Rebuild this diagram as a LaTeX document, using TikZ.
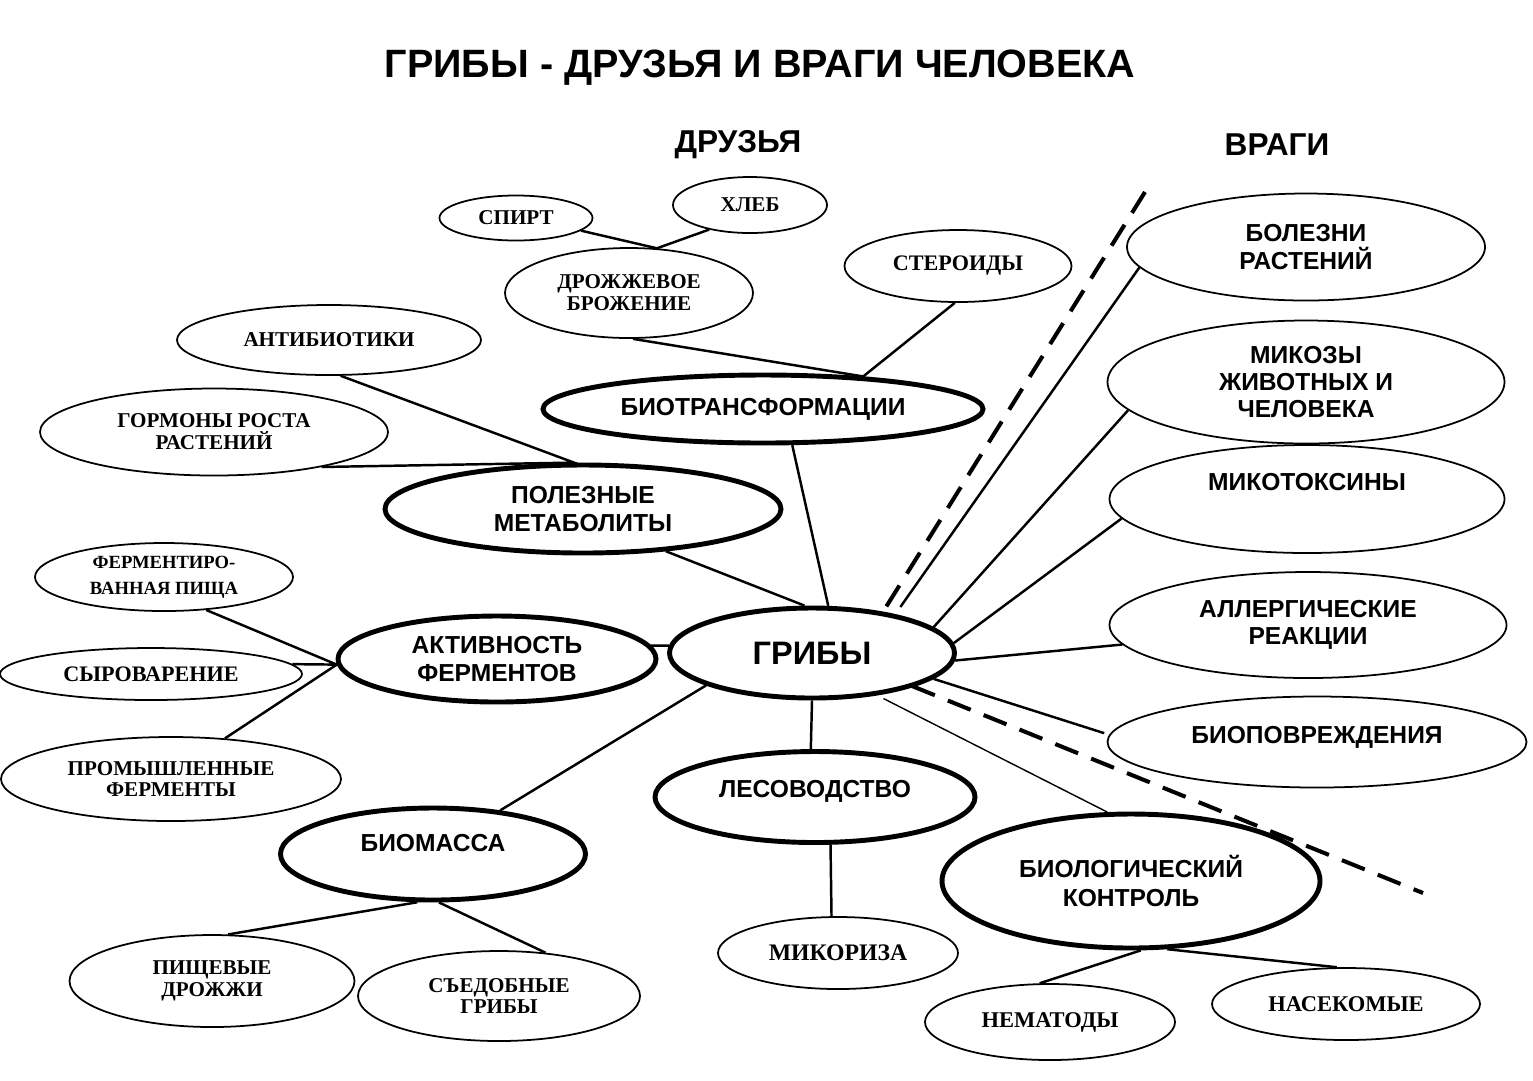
\documentclass[tikz,border=0pt]{standalone}
\usepackage{fontspec}
\setmainfont{Liberation Serif}
\setsansfont{Liberation Sans}
\usetikzlibrary{shapes.geometric}
\newcommand{\raisetext}[2]{\raisebox{#1}[0pt][0pt]{#2}}
\begin{document}
\begin{tikzpicture}[x=0.02cm, y=-0.02cm,
  ell/.style={draw, ellipse, inner sep=0pt, align=center},
  sz/.style 2 args={minimum width=#1*0.02cm, minimum height=#2*0.02cm},
  big/.style={ell, line width=2.8pt, font=\sffamily\bfseries\fontsize{14}{16}\selectfont},
  side/.style={ell, line width=1pt, font=\sffamily\bfseries\fontsize{14}{15.6}\selectfont},
  leaf/.style={ell, line width=1pt, font=\bfseries\fontsize{12}{12.5}\selectfont},
  head/.style={font=\sffamily\bfseries\fontsize{18}{20}\selectfont},
  link/.style={line width=1.4pt},
  fine/.style={line width=0.8pt},
  border/.style={line width=2.3pt, dash pattern=on 14pt off 8pt}]
\useasboundingbox (0,0) rectangle (1533,1080);

% headings
\node[head, font=\sffamily\bfseries\fontsize{22.5}{24}\selectfont] (title) at (760,68) {ГРИБЫ - ДРУЗЬЯ И ВРАГИ ЧЕЛОВЕКА};
\node[head] (friends) at (738,145) {ДРУЗЬЯ};
\node[head] (foes) at (1277,145) {ВРАГИ};

% friends
\node[leaf, sz={153}{45}] (spirt) at (516,218) {СПИРТ};
\node[leaf, sz={154}{56}] (bread) at (750,205) {ХЛЕБ};
\node[leaf, sz={248}{90}] (yeast) at (629,293) {ДРОЖЖЕВОЕ\\БРОЖЕНИЕ};
\node[leaf, sz={227}{72}, font=\bfseries\fontsize{12.6}{13}\selectfont] (steroids) at (958,266) {СТЕРОИДЫ};
\node[leaf, sz={304}{70}] (antibio) at (329,340) {АНТИБИОТИКИ};
\node[leaf, sz={348}{87}] (hormones) at (214,432) {ГОРМОНЫ РОСТА\\РАСТЕНИЙ};
\node[big, sz={440}{68}] (biotrans) at (763,409) {БИОТРАНСФОРМАЦИИ};
\node[big, sz={396}{88}] (metab) at (583,509) {ПОЛЕЗНЫЕ\\МЕТАБОЛИТЫ};
\node[leaf, sz={258}{68}, font=\bfseries\fontsize{10.6}{12}\selectfont] (fermfood) at (164,577) {ФЕРМЕНТИРО-\\[3pt]ВАННАЯ ПИЩА};
\node[leaf, sz={302}{52}, font=\bfseries\fontsize{12.6}{13}\selectfont] (cheese) at (151,674) {СЫРОВАРЕНИЕ};
\node[leaf, sz={340}{84}] (indenz) at (171,779) {ПРОМЫШЛЕННЫЕ\\ФЕРМЕНТЫ};
\node[big, sz={318}{86}] (enzymes) at (497,659) {АКТИВНОСТЬ\\ФЕРМЕНТОВ};
\node[big, sz={285}{90}, font=\sffamily\bfseries\fontsize{18.5}{20}\selectfont] (fungi) at (812,653) {ГРИБЫ};
\node[big, sz={320}{91}] (forestry) at (815,797) {\raisetext{0pt}{ЛЕСОВОДСТВО}};
\node[big, sz={305}{92}] (biomass) at (433,854) {\raisetext{1.2pt}{БИОМАССА}};
\node[leaf, sz={240}{72}, font=\bfseries\fontsize{13.5}{14}\selectfont] (mycorr) at (838,953) {МИКОРИЗА};
\node[leaf, sz={285}{92}] (fodder) at (212,981) {ПИЩЕВЫЕ\\ДРОЖЖИ};
\node[leaf, sz={282}{90}] (edible) at (499,996) {СЪЕДОБНЫЕ\\ГРИБЫ};
\node[big, sz={378}{134}] (biocontrol) at (1131,881) {БИОЛОГИЧЕСКИЙ\\КОНТРОЛЬ};
\node[leaf, sz={250}{76}, font=\bfseries\fontsize{12.8}{13}\selectfont] (nematodes) at (1050,1022) {НЕМАТОДЫ};
\node[leaf, sz={268}{72}, font=\bfseries\fontsize{12.8}{13}\selectfont] (insects) at (1346,1004) {НАСЕКОМЫЕ};

% foes
\node[side, sz={358}{107}] (plantdis) at (1306,247) {БОЛЕЗНИ\\РАСТЕНИЙ};
\node[side, sz={397}{123}] (mycoses) at (1306,382) {МИКОЗЫ\\ЖИВОТНЫХ И\\ЧЕЛОВЕКА};
\node[side, sz={395}{108}] (toxins) at (1307,499) {\raisetext{4.6pt}{МИКОТОКСИНЫ}};
\node[side, sz={397}{106}] (allergy) at (1308,625) {АЛЛЕРГИЧЕСКИЕ\\РЕАКЦИИ};
\node[side, sz={419}{91}] (damage) at (1317,742) {\raisetext{-1pt}{БИОПОВРЕЖДЕНИЯ}};

% links
\draw[link] (spirt.-11) -- (yeast.58) -- (bread.211);
\draw[link] (yeast.-85) -- (biotrans.18) -- (steroids.-95);
\draw[link] (antibio.-72) -- (metab.101) -- (hormones.-18);
\draw[link] (metab.-27) -- (fungi.99);
\draw[link] (biotrans.-51) -- (fungi.71);
\draw[link] (fermfood.-38) -- (enzymes.182) -- (cheese.4);
\draw[link] (indenz.37) -- (enzymes.182);
\draw[link] (enzymes.5) -- (fungi.177);
\draw[link] (fungi.197) -- (biomass.33);
\draw[link] (biomass.-108) -- (fodder.71);
\draw[link] (biomass.-83) -- (edible.43);
\draw[link] (fungi.-90) -- (forestry.95);
\draw[link] (forestry.-72) -- (mycorr.100);
\draw[fine, shorten <=4pt] (fungi.-33) -- (biocontrol.109);
\draw[link] (biocontrol.-82) -- (nematodes.105);
\draw[link] (biocontrol.-62) -- (insects.104);
\draw[link, shorten <=5pt] (fungi.25) -- (plantdis.187);
\draw[link] (fungi.12) -- (mycoses.189);
\draw[link] (fungi.4) -- (toxins.186);
\draw[link] (fungi.-3) -- (allergy.186);
\draw[link, shorten >=3pt] (fungi.-12) -- (damage.178);

% dividing lines
\coordinate (cutA) at (1145,192);
\coordinate (cutB) at (886,607);
\coordinate (cutC) at (912,686);
\coordinate (cutD) at (1423,893);
\draw[border] (cutA) -- (cutB);
\draw[border] (cutC) -- (cutD);
\end{tikzpicture}
\end{document}
